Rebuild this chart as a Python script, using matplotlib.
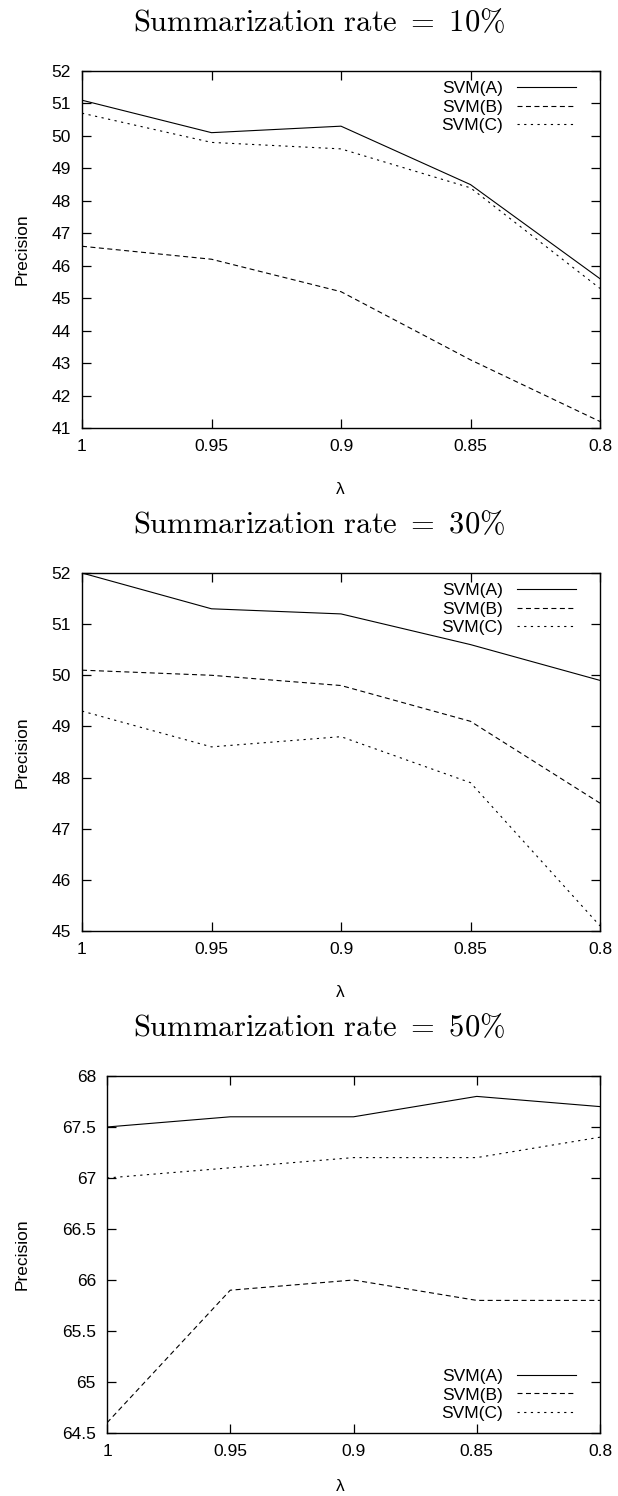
import matplotlib
matplotlib.use("Agg")
import matplotlib.pyplot as plt
from matplotlib.ticker import FuncFormatter, MultipleLocator

plt.rcParams['font.family'] = ['Liberation Sans', 'DejaVu Sans']
plt.rcParams['mathtext.fontset'] = 'cm'
plt.rcParams['lines.scale_dashes'] = False

lambdas = [1.0, 0.95, 0.9, 0.85, 0.8]
series_names = ["SVM(A)", "SVM(B)", "SVM(C)"]

rates = ["10", "30", "50"]

# precision per rate, one list per method
svm_a_10 = [51.1, 50.1, 50.3, 48.5, 45.6]
svm_b_10 = [46.6, 46.2, 45.2, 43.1, 41.2]
svm_c_10 = [50.7, 49.8, 49.6, 48.4, 45.3]

svm_a_30 = [52.0, 51.3, 51.2, 50.6, 49.9]
svm_b_30 = [50.1, 50.0, 49.8, 49.1, 47.5]
svm_c_30 = [49.3, 48.6, 48.8, 47.9, 45.1]

svm_a_50 = [67.5, 67.6, 67.6, 67.8, 67.7]
svm_b_50 = [64.6, 65.9, 66.0, 65.8, 65.8]
svm_c_50 = [67.0, 67.1, 67.2, 67.2, 67.4]

ylims = [(41, 52), (45, 52), (64.5, 68)]
ysteps = [1, 1, 0.5]

W, H = 618, 1496
fig = plt.figure(figsize=(W / 100, H / 100), dpi=100)

# pixel boxes: left, right, top, bottom, lambda label top
boxes = [(82, 600, 71, 428, 482), (82, 600, 573, 931, 985), (107, 600, 1076, 1433, 1479)]
data = [(svm_a_10, svm_b_10, svm_c_10),
        (svm_a_30, svm_b_30, svm_c_30),
        (svm_a_50, svm_b_50, svm_c_50)]
styles = [dict(linestyle='-'),
          dict(linestyle=(0, (3.6, 2.5))),
          dict(linestyle=(0, (1.6, 3.2)))]

fmt = FuncFormatter(lambda v, p: "%g" % round(v, 3))
fs = 12.5

for i in range(3):
    l, r, t, b, lam = boxes[i]
    ax = fig.add_axes([l / W, 1 - b / H, (r - l) / W, (b - t) / H])
    for vals, name, st in zip(data[i], series_names, styles):
        ax.plot(lambdas, vals, color='black', linewidth=0.8, label=name, **st)
    ax.set_xlim(1.0, 0.8)
    ax.set_ylim(*ylims[i])
    ax.set_xticks(lambdas)
    ax.yaxis.set_major_locator(MultipleLocator(ysteps[i]))
    ax.xaxis.set_major_formatter(fmt)
    ax.yaxis.set_major_formatter(fmt)
    ax.tick_params(direction='in', length=6.5, width=0.9, top=True, right=True,
                   labelsize=fs, pad=8)
    for s in ax.spines.values():
        s.set_linewidth(1.0)
    ax.set_xlabel("λ", fontsize=fs)
    ax.set_ylabel("Precision", fontsize=fs)
    ax.xaxis.set_label_coords((340 - l) / (r - l), (b - lam) / (b - t))
    ax.yaxis.set_label_coords((30 - l) / (r - l), 0.5)

    if i < 2:
        ax.legend(loc='upper right', bbox_to_anchor=((576 - l) / (r - l), 1 - 10 / (b - t)),
                  frameon=False, markerfirst=False, fontsize=fs, handlelength=3.4,
                  handletextpad=0.8, labelspacing=0.19, borderpad=0, borderaxespad=0)
    else:
        ax.legend(loc='lower right', bbox_to_anchor=((576 - l) / (r - l), 12 / (b - t)),
                  frameon=False, markerfirst=False, fontsize=fs, handlelength=3.4,
                  handletextpad=0.8, labelspacing=0.19, borderpad=0, borderaxespad=0)

    fig.text(319 / W, 1 - (t - 48) / H,
             r"$\mathrm{Summarization\ rate}\ {=}\ " + rates[i] + r"\%$",
             ha='center', va='center', fontsize=22)

fig.savefig("out.png", dpi=100)
